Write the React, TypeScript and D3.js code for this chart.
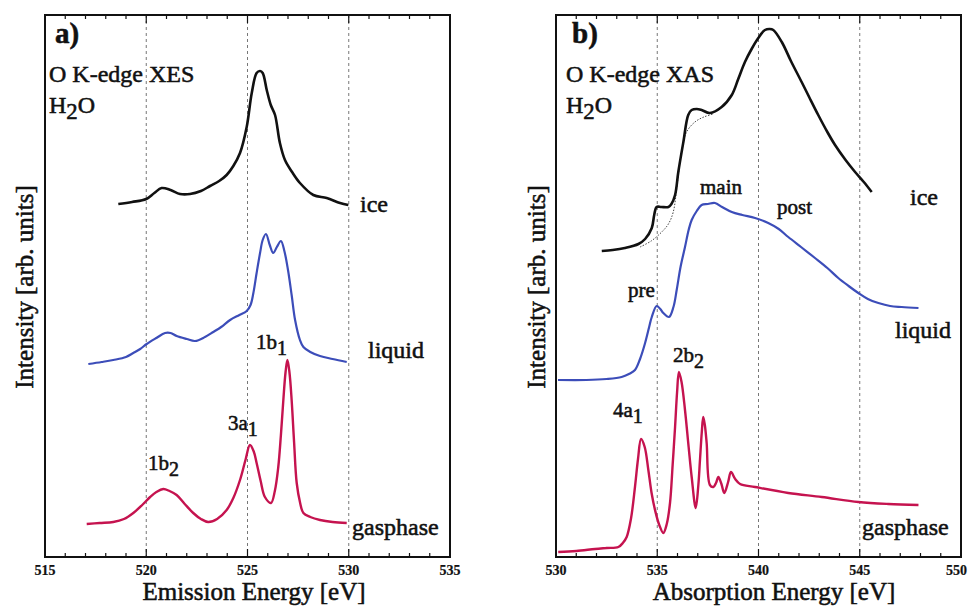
import React from "react";
import * as d3 from "d3";

// ---------- Data (energies in eV, intensities in arb. units) ----------
// Panel a) O K-edge XES
const xesIceE = [518.62, 519.3, 520.0, 520.4, 520.76, 521.2, 521.67, 522.16, 522.7, 523.15, 523.6, 523.97, 524.3, 524.63, 524.96, 525.21, 525.45, 525.62, 525.75, 525.95, 526.15, 526.36, 526.6, 526.85, 527.2, 527.59, 528.25, 528.91, 529.57, 529.98];
const xesIceI = [353, 355, 358, 364, 369, 367, 363, 363, 366, 371, 376, 382, 391, 404, 430, 464, 484, 486, 484, 467, 452, 442, 414, 397, 385, 374, 362, 359, 354, 352];

const xesLiqE = [517.14, 517.8, 518.37, 519.0, 519.36, 519.7, 520.02, 520.5, 520.93, 521.2, 521.5, 522.0, 522.41, 522.9, 523.31, 523.7, 524.14, 524.6, 524.96, 525.15, 525.29, 525.45, 525.62, 525.75, 525.91, 526.1, 526.27, 526.45, 526.65, 526.82, 527.0, 527.18, 527.35, 527.59, 527.76, 528.1, 528.58, 529.2, 529.9];
const xesLiqI = [193, 195, 197, 200, 204, 208, 213, 219, 224, 224, 221, 218, 216, 220, 225, 230, 237, 242, 246, 252, 264, 284, 304, 317, 323, 312, 304, 310, 316, 306, 287, 262, 237, 217, 210, 205, 201, 198, 195];

const xesGasE = [517.06, 517.7, 518.37, 518.9, 519.36, 519.8, 520.19, 520.5, 520.84, 521.15, 521.5, 521.9, 522.32, 522.7, 523.06, 523.5, 523.97, 524.3, 524.63, 524.9, 525.12, 525.3, 525.45, 525.65, 525.86, 526.16, 526.35, 526.52, 526.65, 526.77, 526.88, 526.97, 527.07, 527.18, 527.3, 527.43, 527.6, 527.76, 528.1, 528.58, 529.2, 529.9];
const xesGasI = [33, 34, 35, 38, 44, 52, 60, 65, 68, 66, 62, 53, 44, 38, 35, 38, 47, 59, 77, 97, 112, 106, 94, 76, 60, 54, 66, 90, 122, 157, 185, 197, 185, 157, 115, 74, 54, 44, 40, 37, 35, 34];

// Panel b) O K-edge XAS
const xasIceE = [532.26, 532.8, 533.4, 534.07, 534.4, 534.73, 534.85, 534.97, 535.2, 535.55, 535.7, 535.88, 536.04, 536.29, 536.53, 536.7, 536.95, 537.19, 537.6, 538.18, 538.68, 539.0, 539.33, 539.66, 539.99, 540.32, 540.55, 540.73, 541.15, 541.6, 542.13, 542.5, 542.95, 543.4, 543.78, 544.3, 544.77, 545.2, 545.59];
const xasIceI = [306, 307, 309, 313, 318, 329, 342, 350, 350, 350, 353, 362, 385, 415, 442, 447, 448, 447, 444, 450, 462, 478, 495, 508, 519, 527, 528, 527, 515, 496, 475, 460, 442, 425, 412, 397, 385, 375, 365];

const xasIceBgE = [534.15, 534.7, 535.22, 535.55, 535.79, 536.0, 536.2, 536.45, 536.86, 537.3, 537.77];
const xasIceBgI = [310, 316, 325, 333, 345, 375, 405, 425, 435, 440, 443];

const xasLiqE = [530.1, 531.5, 532.5, 533.24, 533.6, 533.9, 534.15, 534.4, 534.6, 534.73, 534.97, 535.15, 535.3, 535.58, 535.8, 535.96, 536.15, 536.37, 536.55, 536.7, 536.95, 537.19, 537.5, 537.85, 538.2, 538.68, 539.2, 539.83, 540.48, 541.0, 541.47, 542.1, 542.79, 543.4, 543.94, 544.45, 544.93, 545.4, 545.92, 546.5, 547.07, 547.9];
const xasLiqI = [177, 177, 178, 180, 183, 187, 198, 214, 230, 240, 251, 248, 244, 240, 250, 267, 290, 310, 327, 337, 346, 352, 353, 354, 350, 345, 342, 339, 334, 328, 320, 310, 299, 289, 279, 271, 264, 258, 254, 251, 250, 249];

const xasGasE = [530.11, 531.0, 531.93, 532.5, 533.08, 533.3, 533.49, 533.7, 533.9, 534.05, 534.2, 534.38, 534.56, 534.72, 534.89, 535.1, 535.3, 535.47, 535.63, 535.76, 535.88, 535.98, 536.07, 536.2, 536.37, 536.55, 536.7, 536.9, 537.03, 537.11, 537.2, 537.27, 537.35, 537.44, 537.6, 537.77, 537.9, 538.02, 538.17, 538.31, 538.5, 538.64, 538.85, 539.09, 539.83, 541.47, 543.12, 544.93, 546.41, 547.9];
const xasGasI = [5, 6, 8, 9, 10, 14, 20, 38, 70, 98, 118, 110, 87, 64, 47, 32, 24, 33, 54, 92, 130, 165, 185, 175, 147, 110, 80, 49, 72, 97, 125, 140, 132, 114, 72, 70, 74, 80, 73, 64, 75, 85, 78, 73, 70, 64, 60, 55, 53, 52];

// Axes
const xesDomain = [515, 535];
const xasDomain = [530, 550];
const xesTickLabels = [515, 520, 525, 530, 535];
const xasTickLabels = [530, 535, 540, 545, 550];
const xesGrid = [520, 525, 530];
const xasGrid = [535, 540, 545];
const intensityDomain = [0, 542];

// ---------- Layout ----------
const W = 968, H = 608;
const TOP = 15, BOTTOM = 557;
const FONT = "'Liberation Serif', 'Times New Roman', serif";
const BLACK = "#111";
const BLUE = "#3c4db9";
const RED = "#c5134f";
const TXT = { fontFamily: FONT, fill: BLACK, stroke: BLACK, strokeWidth: 0.55 } as any;

const zip = (e: number[], v: number[]) => e.map((x, i) => [x, v[i]] as [number, number]);

function Sub({ x, y, main, sub, post = "", size = 21 }: any) {
  return (
    <text x={x} y={y} fontSize={size} {...TXT}>
      {main}
      <tspan fontSize={size * 0.95} dy={6}>{sub}</tspan>
      {post ? <tspan dy={-6}>{post}</tspan> : null}
    </text>
  );
}

function Panel({ x0, x1, domain, tickLabels, grid, series, children }: any) {
  const x = d3.scaleLinear().domain(domain).range([x0, x1]);
  const y = d3.scaleLinear().domain(intensityDomain).range([BOTTOM, TOP]);
  const line = d3
    .line<[number, number]>()
    .x((d) => x(d[0]))
    .y((d) => y(d[1]))
    .curve(d3.curveCatmullRom.alpha(0.5));
  const minor = d3.range(domain[0], domain[1] + 1, 1);
  return (
    <g>
      {grid.map((g: number) => (
        <line key={"g" + g} x1={x(g)} x2={x(g)} y1={TOP} y2={BOTTOM} stroke="#777" strokeWidth={1} strokeDasharray="3 3" />
      ))}
      {minor.map((t: number) => {
        const major = t % 5 === 0;
        const len = major ? 8 : 4;
        return (
          <g key={"t" + t}>
            <line x1={x(t)} x2={x(t)} y1={BOTTOM} y2={BOTTOM - len} stroke={BLACK} strokeWidth={1.2} />
            <line x1={x(t)} x2={x(t)} y1={TOP} y2={TOP + len} stroke={BLACK} strokeWidth={1.2} />
          </g>
        );
      })}
      {tickLabels.map((t: number, i: number) => {
        const last = x(t) > W - 12;
        return (
          <text key={"l" + t} x={last ? W - 1 : x(t)} y={575} textAnchor={last ? "end" : "middle"} fontWeight="bold" fontSize={14} {...TXT} strokeWidth={0.2}>
            {t}
          </text>
        );
      })}
      {series.map((s: any, i: number) => (
        <path key={"s" + i} d={line(zip(s.e, s.v)) || ""} fill="none" stroke={s.color} strokeWidth={s.width} strokeDasharray={s.dash || undefined} strokeLinejoin="round" />
      ))}
      <rect x={x0} y={TOP} width={x1 - x0} height={BOTTOM - TOP} fill="none" stroke={BLACK} strokeWidth={2} />
      {children}
    </g>
  );
}

export default function App() {
  return (
    <svg width={W} height={H} viewBox={`0 0 ${W} ${H}`} style={{ position: "absolute", left: 0, top: 0, background: "#fff" }}>
      <rect x={0} y={0} width={W} height={H} fill="#fff" />
      <Panel
        x0={45}
        x1={450}
        domain={xesDomain}
        tickLabels={xesTickLabels}
        grid={xesGrid}
        series={[
          { e: xesIceE, v: xesIceI, color: BLACK, width: 2.6 },
          { e: xesLiqE, v: xesLiqI, color: BLUE, width: 2.2 },
          { e: xesGasE, v: xesGasI, color: RED, width: 2.4 },
        ]}
      >
        <text x={55} y={43} fontWeight="bold" fontSize={29} {...TXT}>a)</text>
        <text x={49} y={82} fontSize={24} {...TXT}>O K-edge XES</text>
        <Sub x={49} y={113} main="H" sub="2" post="O" size={24} />
        <text x={360} y={212} fontSize={24} {...TXT}>ice</text>
        <text x={368} y={358} fontSize={24} {...TXT}>liquid</text>
        <text x={352} y={535} fontSize={24} {...TXT}>gasphase</text>
        <Sub x={148} y={470} main="1b" sub="2" />
        <Sub x={228} y={430} main="3a" sub="1" />
        <Sub x={256} y={349} main="1b" sub="1" />
        <text x={254} y={600} textAnchor="middle" fontSize={25} {...TXT}>Emission Energy [eV]</text>
        <text transform="translate(33,287) rotate(-90)" textAnchor="middle" fontSize={25} {...TXT}>Intensity [arb. units]</text>
      </Panel>
      <Panel
        x0={556}
        x1={961}
        domain={xasDomain}
        tickLabels={xasTickLabels}
        grid={xasGrid}
        series={[
          { e: xasIceBgE, v: xasIceBgI, color: "#444", width: 1, dash: "1.5 1.5" },
          { e: xasIceE, v: xasIceI, color: BLACK, width: 2.6 },
          { e: xasLiqE, v: xasLiqI, color: BLUE, width: 2.2 },
          { e: xasGasE, v: xasGasI, color: RED, width: 2.4 },
        ]}
      >
        <text x={572} y={43} fontWeight="bold" fontSize={29} {...TXT}>b)</text>
        <text x={566} y={82} fontSize={24} {...TXT}>O K-edge XAS</text>
        <Sub x={566} y={113} main="H" sub="2" post="O" size={24} />
        <text x={910} y={205} fontSize={24} {...TXT}>ice</text>
        <text x={700} y={194} fontSize={21} {...TXT}>main</text>
        <text x={777} y={214} fontSize={21} {...TXT}>post</text>
        <text x={628} y={297} fontSize={21} {...TXT}>pre</text>
        <text x={895} y={338} fontSize={24} {...TXT}>liquid</text>
        <text x={862} y={535} fontSize={24} {...TXT}>gasphase</text>
        <Sub x={673} y={362} main="2b" sub="2" />
        <Sub x={613} y={417} main="4a" sub="1" />
        <text x={774} y={600} textAnchor="middle" fontSize={25} {...TXT}>Absorption Energy [eV]</text>
        <text transform="translate(545,287) rotate(-90)" textAnchor="middle" fontSize={25} {...TXT}>Intensity [arb. units]</text>
      </Panel>
    </svg>
  );
}
